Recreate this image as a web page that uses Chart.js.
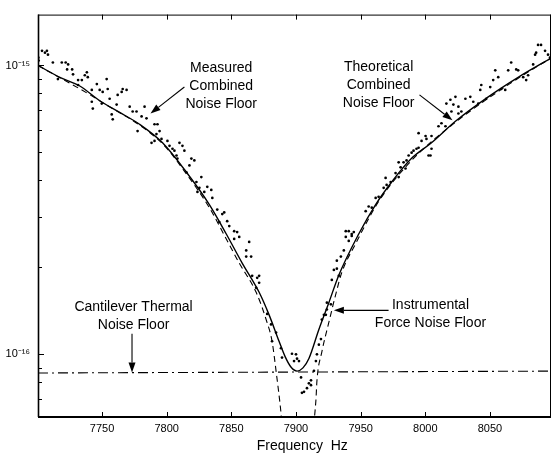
<!DOCTYPE html>
<html>
<head>
<meta charset="utf-8">
<script src="https://cdn.jsdelivr.net/npm/chart.js@4.4.1/dist/chart.umd.min.js"></script>
<style>
  html, body { margin: 0; padding: 0; background: #fff; }
</style>
</head>
<body>
<canvas id="chart" width="555" height="455"></canvas>
<script>
const FONT = "'Liberation Sans', Arial, Helvetica, sans-serif";

// axis ranges and ticks
const xRange = [7700.5, 8097.2];
const yRange = [6.07e-17, 1.50e-15];
const xTicks = [7750, 7800, 7850, 7900, 7950, 8000, 8050];
const yMajorTicks = [1e-16, 1e-15];
const yMajorLabels = ['10\u207B\u00B9\u2076', '10\u207B\u00B9\u2075'];
const yMinorTicks = [7e-17, 8e-17, 9e-17, 2e-16, 3e-16, 4e-16, 5e-16, 6e-16, 7e-16, 8e-16, 9e-16];

const UNIT = 1e-16; // all series values below are in units of 1e-16

// measured combined noise floor (dots)
const measFreq = [
  7701, 7700.8, 7703.6, 7705.9, 7707.4, 7708.2, 7712.0, 7718.9, 7721.9, 7723.8,
  7723.0, 7726.9, 7715.9, 7727.6, 7734.4, 7736.7, 7738.3, 7739.0, 7731.5, 7742.1,
  7746.0, 7748.2, 7750.5, 7753.6, 7754.4, 7742.1, 7742.9, 7749.8, 7755.9, 7761.3,
  7762.1, 7766.0, 7769.0, 7765.2, 7757.5, 7758.3, 7771.4, 7773.7, 7776.7, 7780.6,
  7782.9, 7784.4, 7777.5, 7792.9, 7792.1, 7790.6, 7796.0, 7788.3, 7731.5, 7790.6,
  7794.5, 7804.5,
  7800.6, 7802.2, 7809.9, 7812.2, 7813.7, 7806.0, 7807.6, 7808.3, 7819.1, 7821.4,
  7817.6, 7815.3, 7826.8, 7823.0, 7825.3, 7823.8, 7829.1, 7831.4, 7834.5, 7835.3,
  7839.1, 7843.0, 7844.5, 7840.7, 7846.8, 7848.4, 7852.2, 7854.5, 7852.2, 7856.1,
  7863.8, 7861.5, 7865.3, 7861.5, 7866.1, 7870.0, 7869.2,
  7871.5, 7871.5, 7877.7, 7880.7, 7884.6, 7881.5, 7888.4, 7889.2, 7896.9, 7900.0,
  7900.8, 7902.3, 7898.5, 7903.9, 7910.0, 7908.5, 7906.2, 7911.6, 7904.6, 7913.9,
  7915.4, 7916.2, 7917.7, 7919.3, 7920.0, 7923.1, 7923.9, 7927.0, 7929.3, 7931.6,
  7933.1, 7911.6, 7921.6, 7923.9,
  7927.7, 7931.6, 7934.7, 7937.0, 7938.5, 7940.8, 7943.1, 7944.7, 7940.8, 7953.9,
  7956.2, 7958.6, 7961.6, 7963.9, 7967.8, 7969.3, 7970.1, 7973.2, 7977.0, 7979.4,
  7980.9, 7983.2, 7985.5, 7987.1, 7989.4, 7990.9, 7993.2, 7994.8, 7997.1, 8000.9,
  8002.5, 7984.7,
  7938.5, 7943.1, 7979.4, 7994.8, 8000.2, 8004.8, 8004.0, 8015.6, 8020.2, 8025.6,
  8004.8, 8010.2, 8012.5, 8016.3, 8019.4, 8021.7, 8023.3, 8025.6, 8027.9, 8031.0,
  8034.8, 8037.1, 8041.0, 8042.5, 8043.3, 8047.1, 8050.2, 8052.5, 8054.1, 8056.4,
  8058.7, 8061.8, 8064.1, 8066.4, 8070.3, 8071.8, 8075.7, 8078.0, 8079.5, 8083.4,
  8084.9, 8087.2, 8089.5, 8092.6, 8094.9, 8096.4, 8085.7
];
const measVal = [
  10.40, 10.64, 11.24, 11.07, 11.24, 10.90, 10.24, 10.24, 10.24, 10.08,
  9.69, 9.69, 8.97, 9.32, 8.90, 9.25, 9.47, 9.11, 8.56, 8.23,
  8.62, 8.23, 8.10, 8.97, 8.29, 7.49, 7.09, 7.38, 7.67, 7.32,
  7.91, 8.29, 8.23, 8.10, 6.77, 6.51, 7.20, 6.93, 6.93, 6.66,
  7.20, 6.56, 5.93, 6.26, 5.79, 5.48, 5.57, 5.40, 8.90, 6.26,
  5.93, 5.15,
  5.48, 5.27, 5.40, 5.27, 5.07, 5.07, 4.88, 4.76, 4.76, 4.69,
  4.51, 4.27, 4.11, 3.95, 3.77, 3.65, 3.65, 3.80, 3.71, 3.48,
  3.17, 3.06, 3.10, 2.87, 2.89, 2.78, 2.67, 2.65, 2.51, 2.55,
  2.45, 2.29, 2.18, 2.18, 1.87, 1.84, 1.70,
  1.87, 1.77, 1.38, 1.27, 1.19, 1.11, 1.05, 0.975, 1.005, 1.00,
  0.966, 0.948, 0.948, 0.832, 0.794, 0.764, 0.742, 0.782, 0.736, 0.877,
  0.948, 1.00, 1.08, 1.13, 1.32, 1.37, 1.43, 1.49, 1.96, 1.98,
  1.87, 0.813, 1.37, 1.51,
  1.81, 2.11, 2.18, 2.29, 2.55, 2.67, 2.61, 2.65, 2.47, 3.13,
  3.25, 3.22, 3.48, 3.51, 3.77, 4.08, 3.86, 3.95, 4.24, 4.11,
  4.44, 4.62, 4.69, 4.88, 4.99, 5.07, 5.15, 5.19, 5.48, 5.57,
  4.88, 4.40,
  2.67, 2.57, 4.62, 5.83, 5.70, 5.15, 4.88, 6.16, 6.93, 6.82,
  5.70, 6.16, 6.31, 7.38, 7.61, 7.32, 7.79, 7.20, 6.93, 7.67,
  7.79, 7.49, 7.38, 8.23, 8.56, 7.67, 8.42, 8.90, 9.62, 9.11,
  8.29, 8.23, 9.62, 10.24, 9.69, 9.62, 9.11, 8.90, 9.25, 10.08,
  10.90, 11.78, 11.78, 11.24, 10.90, 10.64, 11.07
];

// theoretical combined noise floor (solid)
const combFreq = [
  7700.5, 7717.4, 7732.8, 7748.2, 7763.6, 7779.0, 7796.8, 7815.3, 7833.0, 7846.1,
  7858.4, 7871.5, 7879.2, 7886.9, 7891.5, 7896.1, 7900.8, 7905.4, 7910.0, 7917.7,
  7925.4, 7933.1, 7948.5, 7961.6, 7974.0, 7989.4, 8004.8, 8023.3, 8048.7, 8071.8, 8097.2
];
const combVal = [
  10.0, 9.10, 8.49, 7.55, 6.88, 6.26, 5.40, 4.27, 3.30, 2.61,
  2.07, 1.64, 1.37, 1.11, 0.984, 0.904, 0.875, 0.898, 0.968, 1.22,
  1.51, 1.88, 2.61, 3.30, 3.95, 4.77, 5.40, 6.41, 7.79, 9.10, 10.6
];

// instrumental force noise floor (dashed)
const instFreq = [
  7700.5, 7748.2, 7796.8, 7815.3, 7833.0, 7846.1, 7856.1, 7869.2, 7876.9, 7881.5,
  7884.6, 7888.4, 7889.2, 7913.1, 7915.4, 7916.2, 7920.0, 7925.4, 7931.6, 7935.4,
  7946.2, 7963.9, 7989.4, 8023.3, 8071.8, 8097.2
];
const instVal = [
  10.0, 7.55, 5.36, 4.21, 3.22, 2.51, 2.07, 1.64, 1.32, 1.11,
  0.875, 0.627, 0.570, 0.570, 0.693, 0.810, 1.02, 1.29, 1.67, 1.92,
  2.42, 3.38, 4.69, 6.36, 9.03, 10.6
];

// cantilever thermal noise floor (dash-dot)
const thermFreq = [7700.5, 8097.2];
const thermVal = [0.862, 0.875];

// annotations, anchored in data coordinates
const notes = [
  { lines: ['Measured', 'Combined', 'Noise Floor'], at: [7842.2, 9.77e-16] },
  { lines: ['Theoretical', 'Combined', 'Noise Floor'], at: [7963.9, 9.84e-16] },
  { lines: ['Cantilever Thermal', 'Noise Floor'], at: [7774.4, 1.455e-16] },
  { lines: ['Instrumental', 'Force Noise Floor'], at: [8004.0, 1.477e-16] }
];
const arrows = [
  { from: [7813.7, 8.42e-16], to: [7787.5, 6.82e-16] },
  { from: [7995.5, 7.91e-16], to: [8021.0, 6.46e-16] },
  { from: [7773.2, 1.178e-16], to: [7773.2, 8.65e-17] },
  { from: [7971.6, 1.42e-16], to: [7929.3, 1.42e-16] }
];

const pts = (fs, vs) => fs.map((f, i) => ({ x: f, y: vs[i] * UNIT }));

// frame, inward tick marks, labels and arrows
const decorations = {
  id: 'decorations',
  afterDraw(chart) {
    const { ctx, chartArea: a, scales: { x, y } } = chart;
    const line = (x1, y1, x2, y2) => { ctx.beginPath(); ctx.moveTo(x1, y1); ctx.lineTo(x2, y2); ctx.stroke(); };
    ctx.save();
    ctx.strokeStyle = '#000';
    ctx.fillStyle = '#000';

    ctx.lineWidth = 1;
    line(a.left, a.top + 0.5, a.right, a.top + 0.5);
    line(a.right - 0.5, a.top, a.right - 0.5, a.bottom);
    ctx.lineWidth = 1.6;
    line(a.left + 0.5, a.top, a.left + 0.5, a.bottom);
    ctx.lineWidth = 2;
    line(a.left, a.bottom, a.right, a.bottom);

    ctx.lineWidth = 1;
    xTicks.forEach(v => {
      const px = Math.round(x.getPixelForValue(v)) + 0.5;
      line(px, a.bottom, px, a.bottom - 5);
      line(px, a.top, px, a.top + 5);
    });
    yMajorTicks.forEach(v => {
      const py = Math.round(y.getPixelForValue(v)) + 0.5;
      line(a.left, py, a.left + 6, py);
    });
    yMinorTicks.forEach(v => {
      const py = Math.round(y.getPixelForValue(v)) + 0.5;
      line(a.left, py, a.left + 4, py);
    });

    ctx.font = '14px ' + FONT;
    ctx.textAlign = 'center';
    ctx.textBaseline = 'middle';
    notes.forEach(n => {
      const cx = x.getPixelForValue(n.at[0]);
      const cy = y.getPixelForValue(n.at[1]);
      n.lines.forEach((t, i) => ctx.fillText(t, cx, cy + i * 18));
    });

    ctx.lineWidth = 1.1;
    arrows.forEach(ar => {
      const x1 = x.getPixelForValue(ar.from[0]), y1 = y.getPixelForValue(ar.from[1]);
      const x2 = x.getPixelForValue(ar.to[0]), y2 = y.getPixelForValue(ar.to[1]);
      const ang = Math.atan2(y2 - y1, x2 - x1);
      const len = 10, half = 3.5;
      const bx = x2 - len * Math.cos(ang), by = y2 - len * Math.sin(ang);
      line(x1, y1, bx, by);
      ctx.beginPath();
      ctx.moveTo(x2, y2);
      ctx.lineTo(bx + half * Math.sin(ang), by - half * Math.cos(ang));
      ctx.lineTo(bx - half * Math.sin(ang), by + half * Math.cos(ang));
      ctx.closePath();
      ctx.fill();
    });
    ctx.restore();
  }
};

Chart.defaults.color = '#000';
Chart.defaults.font.family = FONT;

new Chart(document.getElementById('chart'), {
  type: 'scatter',
  data: {
    datasets: [
      {
        label: 'Measured',
        data: pts(measFreq, measVal),
        pointRadius: 1.35,
        pointBorderWidth: 0,
        pointBackgroundColor: '#000',
        showLine: false
      },
      {
        label: 'Theoretical',
        data: pts(combFreq, combVal),
        showLine: true,
        borderColor: '#000',
        borderWidth: 1.4,
        pointRadius: 0,
        cubicInterpolationMode: 'monotone'
      },
      {
        label: 'Instrumental',
        data: pts(instFreq, instVal),
        showLine: true,
        borderColor: '#000',
        borderWidth: 1.1,
        borderDash: [6, 4],
        pointRadius: 0,
        cubicInterpolationMode: 'monotone'
      },
      {
        label: 'Thermal',
        data: pts(thermFreq, thermVal),
        showLine: true,
        borderColor: '#000',
        borderWidth: 1.1,
        borderDash: [10, 4, 2, 4],
        pointRadius: 0
      }
    ]
  },
  options: {
    responsive: false,
    animation: false,
    layout: { padding: { top: 6, right: 2, left: 0, bottom: 0 } },
    plugins: { legend: { display: false }, tooltip: { enabled: false } },
    scales: {
      x: {
        type: 'linear',
        min: xRange[0],
        max: xRange[1],
        afterBuildTicks: s => { s.ticks = xTicks.map(v => ({ value: v })); },
        afterFit: s => { s.height = 38; },
        grid: { display: false, drawTicks: false },
        border: { display: false },
        ticks: {
          autoSkip: false,
          maxRotation: 0,
          padding: 5,
          font: { size: 11 },
          callback: v => String(v)
        },
        title: {
          display: true,
          text: '\u00a0\u00a0\u00a0\u00a0Frequency  Hz',
          font: { size: 14 },
          padding: { top: 0, bottom: 0 }
        }
      },
      y: {
        type: 'logarithmic',
        min: yRange[0],
        max: yRange[1],
        afterBuildTicks: s => { s.ticks = yMajorTicks.map(v => ({ value: v })); },
        afterFit: s => { s.width = 38; },
        grid: { display: false, drawTicks: false },
        border: { display: false },
        ticks: {
          autoSkip: false,
          padding: 8,
          font: { size: 11 },
          callback: (v, i) => yMajorLabels[i]
        }
      }
    }
  },
  plugins: [decorations]
});
</script>
</body>
</html>
